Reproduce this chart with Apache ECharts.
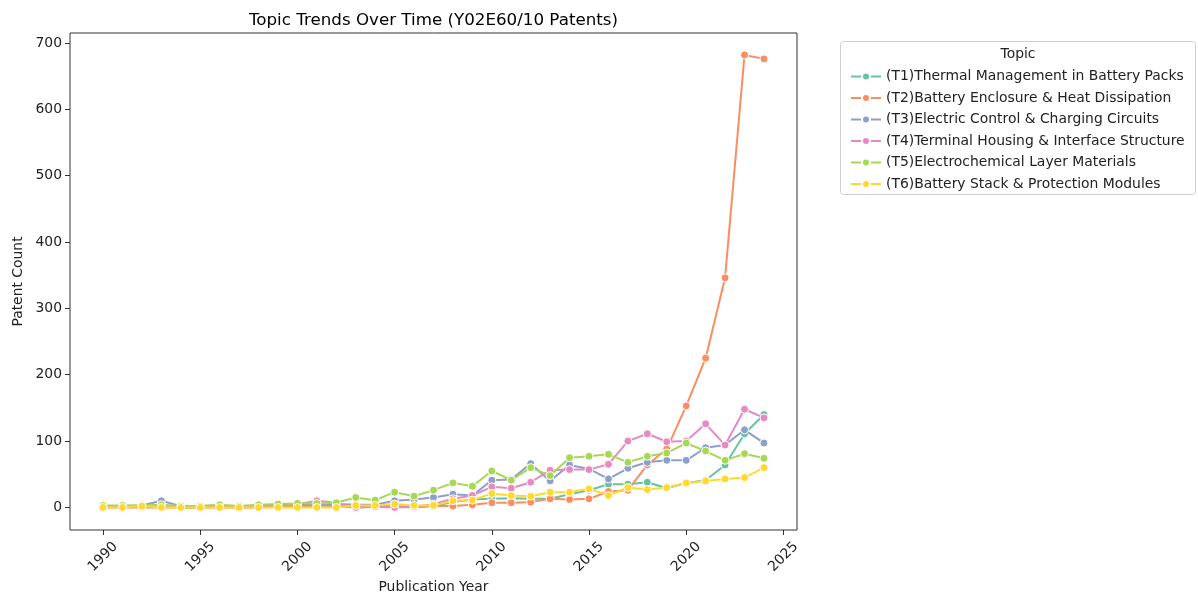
<!DOCTYPE html>
<html>
<head>
<meta charset="utf-8">
<script src="https://cdn.jsdelivr.net/npm/echarts@6/dist/echarts.min.js"></script>
<style>
  html, body { margin: 0; padding: 0; background: #fff; }
  #chart { width: 1198px; height: 594px; }
</style>
</head>
<body>
<div id="chart"></div>
<script>
// Publication years 1990–2024
const years = [];
for (let y = 1990; y <= 2024; y++) years.push(y);

const topicNames = [
  '(T1)Thermal Management in Battery Packs',
  '(T2)Battery Enclosure & Heat Dissipation',
  '(T3)Electric Control & Charging Circuits',
  '(T4)Terminal Housing & Interface Structure',
  '(T5)Electrochemical Layer Materials',
  '(T6)Battery Stack & Protection Modules'
];

// Patent counts per year for each topic
const t1 = [1,1,1,2,0,0,1,0,1,1,2,2,2,0,1,1,0,2,8,12,
            13,14,13,13,20,26,35,35,38,29,37,41,64,111,140];
const t2 = [0,0,0,0,0,0,0,0,0,1,1,1,2,1,2,2,1,2,2,4,
            7,7,8,13,12,13,24,26,64,88,153,225,346,682,676];
const t3 = [2,2,3,10,2,2,3,1,3,4,5,5,5,4,4,10,12,15,20,18,
            41,42,66,40,64,58,43,59,68,71,71,90,94,117,97];
const t4 = [1,1,1,2,1,1,2,1,2,3,5,10,7,0,1,0,1,5,13,18,
            31,29,38,56,57,57,65,100,111,99,100,126,94,148,135];
const t5 = [3,3,3,4,2,2,4,2,4,5,6,6,7,15,11,23,17,26,37,32,
            55,41,60,48,75,77,80,68,77,82,97,85,71,81,74];
const t6 = [0,0,2,0,0,0,0,0,0,0,0,0,0,3,3,5,3,3,10,11,
            21,18,17,23,23,28,18,30,27,30,37,40,43,45,60];

const xTicks = [1990, 1995, 2000, 2005, 2010, 2015, 2020, 2025];
const yTicks = [0, 100, 200, 300, 400, 500, 600, 700];

const palette = ['#66c2a5', '#fc8d62', '#8da0cb', '#e78ac3', '#a6d854', '#ffd92f'];
const seriesValues = [t1, t2, t3, t4, t5, t6];

const FONT = 'DejaVu Sans';
const FS = 13.9;

const chart = echarts.init(document.getElementById('chart'), null, { renderer: 'canvas' });

const series = seriesValues.map((vals, i) => ({
  name: topicNames[i],
  type: 'line',
  data: years.map((y, k) => [y, vals[k]]),
  symbol: 'circle',
  symbolSize: 8,
  showSymbol: true,
  lineStyle: { width: 2, color: palette[i] },
  itemStyle: { color: palette[i], borderColor: '#fff', borderWidth: 1 },
  emphasis: { disabled: true },
  animation: false,
  z: 2 + i
}));

chart.setOption({
  animation: false,
  color: palette,
  textStyle: { fontFamily: FONT },
  grid: {
    left: 70, right: 401, top: 33, bottom: 64,
    outerBoundsMode: 'none',
    containLabel: false,
    show: true, borderColor: '#333', borderWidth: 1, backgroundColor: 'transparent'
  },
  legend: {
    orient: 'vertical',
    left: 845,
    top: 64.5,
    itemWidth: 30,
    itemHeight: 10,
    itemGap: 7.5,
    textStyle: { fontFamily: FONT, fontSize: FS, color: '#222' },
    selectedMode: false,
    data: topicNames
  },
  graphic: [
    {
      type: 'text',
      x: 433.5, y: 21,
      style: { text: 'Topic Trends Over Time (Y02E60/10 Patents)', fontFamily: FONT,
               fontSize: 16.7, fill: '#000', textAlign: 'center', textVerticalAlign: 'middle' }
    },
    {
      type: 'rect',
      shape: { x: 840.5, y: 41.5, width: 355, height: 153, r: 3 },
      style: { fill: 'rgba(255,255,255,0.8)', stroke: '#d0d0d0', lineWidth: 1 },
      z: -1
    },
    {
      type: 'text',
      x: 1018, y: 54,
      style: { text: 'Topic', fontFamily: FONT, fontSize: FS, fill: '#222',
               textAlign: 'center', textVerticalAlign: 'middle' }
    }
  ],
  xAxis: {
    type: 'value',
    min: 1988.3,
    max: 2025.7,
    name: 'Publication Year',
    nameLocation: 'middle',
    nameGap: 50,
    nameMoveOverlap: false,
    nameTextStyle: { fontFamily: FONT, fontSize: FS, color: '#222' },
    axisLine: { show: false, onZero: false },
    splitLine: { show: false },
    axisTick: { show: true, length: 5, customValues: xTicks, lineStyle: { color: '#333' } },
    axisLabel: {
      customValues: xTicks,
      rotate: 45,
      align: 'center',
      verticalAlign: 'middle',
      margin: 27,
      fontFamily: FONT, fontSize: FS, color: '#222',
      formatter: v => String(v)
    }
  },
  yAxis: {
    type: 'value',
    min: -34,
    max: 715,
    name: 'Patent Count',
    nameLocation: 'middle',
    nameGap: 45,
    nameMoveOverlap: false,
    nameTextStyle: { fontFamily: FONT, fontSize: FS, color: '#222' },
    axisLine: { show: false, onZero: false },
    splitLine: { show: false },
    axisTick: { show: true, length: 5, customValues: yTicks, lineStyle: { color: '#333' } },
    axisLabel: {
      customValues: yTicks,
      margin: 8,
      fontFamily: FONT, fontSize: FS, color: '#222'
    }
  },
  series: series
});
</script>
</body>
</html>
